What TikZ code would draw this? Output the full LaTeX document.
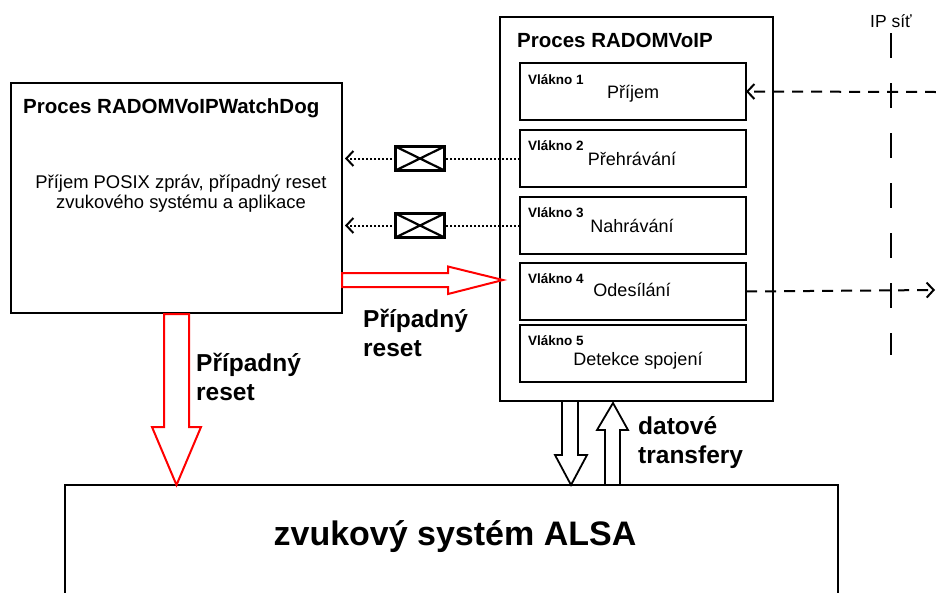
\documentclass[tikz,border=0pt]{standalone}
\usepackage{fontspec}
\setmainfont{Liberation Sans}
\usetikzlibrary{arrows.meta,calc}

\tikzset{
  frame/.style={draw, line width=2pt, inner sep=0pt, outer sep=0pt, anchor=north west},
  thread/.style={frame, minimum width=226pt, minimum height=57pt},
  tag/.style={font=\bfseries\fontsize{13.5}{15}\selectfont, anchor=base west, inner sep=0pt},
  job/.style={font=\fontsize{18}{20}\selectfont, anchor=base, inner sep=0pt},
  title/.style={font=\bfseries\fontsize{20.5}{24}\selectfont, anchor=base west, inner sep=0pt},
  % multi-line nodes: the base anchor sits on the last line
  note/.style={font=\bfseries\fontsize{24.5}{29}\selectfont, align=left, anchor=base west, inner sep=0pt},
  envelope/.style={draw, fill=white, line width=2.6pt, minimum width=49pt, minimum height=24pt,
    inner sep=0pt, path picture={
      \draw[line width=2.2pt]
        (path picture bounding box.south west) -- (path picture bounding box.north east)
        (path picture bounding box.north west) -- (path picture bounding box.south east);}},
  barb/.style={-{Straight Barb[length=7pt,width=15pt,line width=2pt]}},
  msg/.style={barb, line width=2pt, dash pattern=on 2pt off 2pt},
  net/.style={barb, line width=2pt, dash pattern=on 11pt off 8pt},
  fatred/.style={draw=red, line width=2pt, line join=miter},
  fatblack/.style={draw=black, line width=1.8pt, line join=miter},
}

\begin{document}
\begin{tikzpicture}[x=1pt, y=-1pt]
  \useasboundingbox (0,0) rectangle (936,592);

  % watchdog process
  \node[frame, minimum width=331pt, minimum height=230pt] (wd) at (11,83) {};
  \node[title] (wdtitle) at (23,113) {Proces RADOMVoIPWatchDog};
  \node[font=\fontsize{18.4}{20}\selectfont, align=center, anchor=base, inner sep=0pt] (wdtext) at (181,208)
    {Příjem POSIX zpráv, případný reset\\zvukového systému a aplikace};

  % main VoIP process with its threads
  \node[frame, minimum width=273pt, minimum height=384pt] (voip) at (500,17) {};
  \node[title] (voiptitle) at (517,47) {Proces RADOMVoIP};

  \node[thread] (t1) at (520,63) {};
  \node[thread] (t2) at (520,130) {};
  \node[thread] (t3) at (520,197) {};
  \node[thread] (t4) at (520,263) {};
  \node[thread] (t5) at (520,325) {};

  \node[tag] (v1) at (528,84) {Vlákno 1};
  \node[tag] (v2) at (528,150) {Vlákno 2};
  \node[tag] (v3) at (528,217) {Vlákno 3};
  \node[tag] (v4) at (528,283) {Vlákno 4};
  \node[tag] (v5) at (528,345) {Vlákno 5};

  \node[job] (j1) at (633,98) {Příjem};
  \node[job] (j2) at (632,165) {Přehrávání};
  \node[job] (j3) at (632,232) {Nahrávání};
  \node[job] (j4) at (632,296) {Odesílání};
  \node[job] (j5) at (638,365) {Detekce spojení};

  % POSIX messages to the watchdog
  \draw[msg, shorten >=3pt] (t2.west) -- (wd.east |- t2.west);
  \draw[msg, shorten >=3pt] (t3.west) -- (wd.east |- t3.west);
  \node[envelope] (m1) at (420,158.5) {};
  \node[envelope] (m2) at (420,225.5) {};

  % IP network boundary
  \node[font=\fontsize{17.5}{20}\selectfont, anchor=base, inner sep=0pt] (ip) at (891,27) {IP síť};
  \coordinate (iptop) at (891,33);
  \coordinate (ipbot) at (891,355);
  \draw[line width=2pt, dash pattern=on 25pt off 25pt] (iptop) -- (ipbot);

  \coordinate (netin) at (936,92);
  \coordinate (netout) at (935,290);
  \draw[net] (netin) -- (t1.east);
  \draw[net] (t4.east) -- (netout);

  % ALSA sound system
  \begin{scope}
    \clip (0,0) rectangle (936,592);
    \node[frame, minimum width=773pt, minimum height=130pt] (alsa) at (65,485) {};
  \end{scope}
  \node[font=\bfseries\fontsize{34}{40}\selectfont, anchor=base, inner sep=0pt] (alsatext) at (455,545)
    {zvukový systém ALSA};

  % reset arrows
  \draw[fatred] (342,273) -- (448,273) -- (448,266.5) -- (503,280) -- (448,294) -- (448,287) -- (342,287) -- cycle;
  \draw[fatred] (164,314) -- (164,427) -- (152,427) -- (176.5,485) -- (201,427) -- (189,427) -- (189,314) -- cycle;
  \node[note] (r1) at (363,356) {Případný\\reset};
  \node[note] (r2) at (196,400) {Případný\\reset};

  % data transfers
  \draw[fatblack] (562,401) -- (562,455) -- (555,455) -- (571,485) -- (587,455) -- (578,455) -- (578,401);
  \draw[fatblack] (605,485) -- (605,430) -- (597,430) -- (613,403) -- (628,430) -- (620,430) -- (620,485);
  \node[note] (dt) at (638,463) {datové\\transfery};
\end{tikzpicture}
\end{document}
